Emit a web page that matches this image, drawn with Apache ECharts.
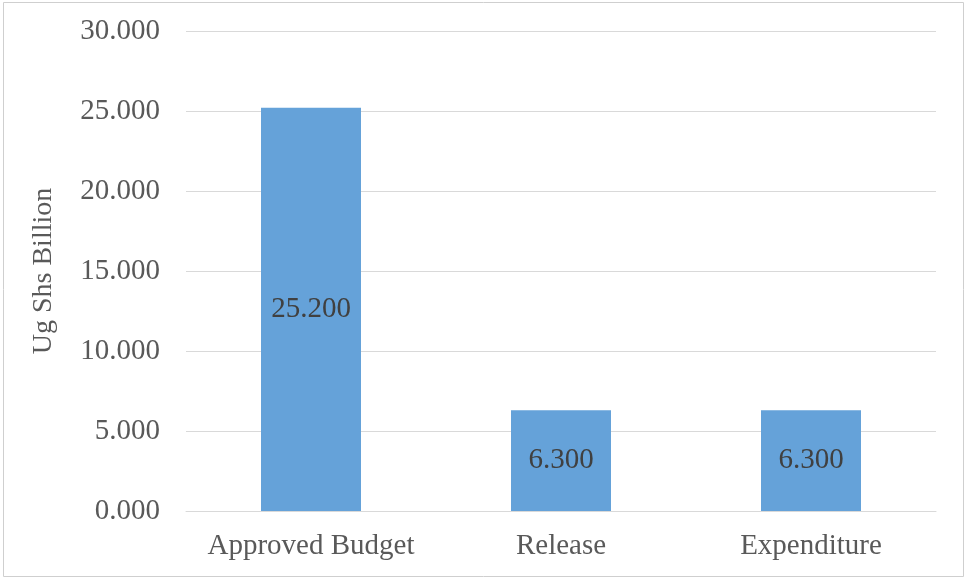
<!DOCTYPE html>
<html>
<head>
<meta charset="utf-8">
<script src="https://cdn.jsdelivr.net/npm/echarts@6/dist/echarts.min.js"></script>
<style>
html,body{margin:0;padding:0;background:#fff;}
#c{width:966px;height:579px;}
</style>
</head>
<body>
<div id="c"></div>
<script>
const categories = ['Approved Budget', 'Release', 'Expenditure'];
const values = [25.2, 6.3, 6.3];
const yTicks = { min: 0, max: 30, interval: 5 };

const chart = echarts.init(document.getElementById('c'), null, { renderer: 'canvas' });
const font = '"Liberation Serif", "Times New Roman", serif';
chart.setOption({
  animation: false,
  backgroundColor: '#fff',
  textStyle: { fontFamily: font },
  graphic: [{
    type: 'rect',
    shape: { x: 3.5, y: 2.5, width: 960, height: 574 },
    style: { fill: 'none', stroke: '#cfcfcf', lineWidth: 1 },
    silent: true
  }],
  grid: { left: 186, right: 30, top: 31, bottom: 68 },
  xAxis: {
    type: 'category',
    data: categories,
    axisLine: { lineStyle: { color: '#d9d9d9', width: 1 } },
    axisTick: { show: false },
    axisLabel: { color: '#595959', fontSize: 29, fontFamily: font, margin: 21, interval: 0, hideOverlap: false }
  },
  yAxis: {
    type: 'value',
    min: yTicks.min, max: yTicks.max, interval: yTicks.interval,
    name: 'Ug Shs Billion',
    nameLocation: 'middle',
    nameGap: 128,
    nameRotate: 90,
    nameTextStyle: { color: '#595959', fontSize: 28, fontFamily: font },
    axisLine: { show: false },
    axisTick: { show: false },
    splitLine: { lineStyle: { color: '#d9d9d9', width: 1 } },
    axisLabel: {
      color: '#595959', fontSize: 29, fontFamily: font, margin: 26,
      formatter: v => v.toFixed(3)
    }
  },
  series: [{
    type: 'bar',
    data: values,
    barWidth: 100,
    itemStyle: { color: '#65a2d9' },
    label: {
      show: true,
      position: 'inside',
      color: '#404040',
      fontSize: 29,
      fontFamily: font,
      formatter: p => p.value.toFixed(3)
    }
  }]
});
</script>
</body>
</html>
